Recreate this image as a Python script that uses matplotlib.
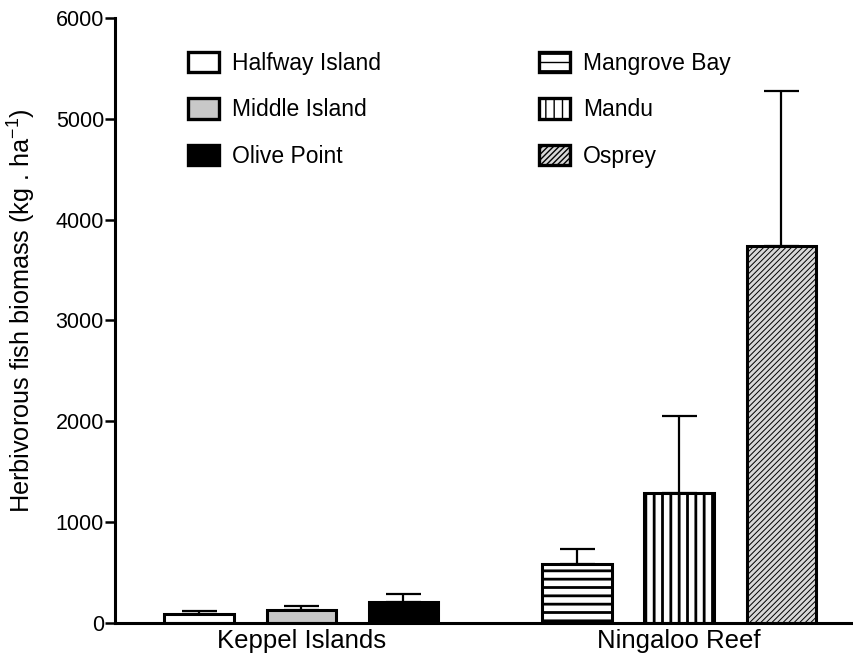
import numpy as np
import matplotlib
matplotlib.use("Agg")
import matplotlib.pyplot as plt
from matplotlib.patches import Patch

plt.rcParams['font.family'] = ['Liberation Sans', 'DejaVu Sans']
plt.rcParams['mathtext.fontset'] = 'custom'
plt.rcParams['mathtext.rm'] = 'Liberation Sans'
plt.rcParams['mathtext.it'] = 'Liberation Sans'

# data
sites = ['Halfway Island', 'Middle Island', 'Olive Point',
         'Mangrove Bay', 'Mandu', 'Osprey']
biomass = [90, 130, 210, 580, 1290, 3740]
biomass_err = [25, 35, 75, 150, 760, 1540]
regions = ['Keppel Islands', 'Ningaloo Reef']

# styling
x_pos = [0, 1, 2, 3.7, 4.7, 5.7]
bar_width = 0.68
faces = ['white', '#c8c8c8', 'black', 'white', 'white', '#d8d8d8']
hatches = [None, None, None, '--', '||', '//////']
hatch_lw = [1, 1, 1, 2.0, 2.0, 0.7]
edge_lw = 2.2

fig = plt.figure(figsize=(8.54, 6.55), dpi=100)
ax = fig.add_axes([0.1347, 0.0489, 0.865, 0.9236])

handles = []
for i in range(len(sites)):
    with plt.rc_context({'hatch.linewidth': hatch_lw[i], 'hatch.color': 'black'}):
        b = ax.bar(x_pos[i], biomass[i], width=bar_width, color=faces[i],
                   edgecolor='black', linewidth=edge_lw, hatch=hatches[i],
                   zorder=2)
        h = Patch(facecolor=faces[i], edgecolor='black', linewidth=2.4,
                  hatch=hatches[i], label=sites[i])
    handles.append(h)
    ax.errorbar(x_pos[i], biomass[i], yerr=[[0], [biomass_err[i]]],
                fmt='none', ecolor='black', elinewidth=1.6, capsize=12.6,
                capthick=1.6, zorder=1)

ax.set_xlim(-0.824, 6.41)
ax.set_ylim(0, 6000)
ax.set_yticks(np.arange(0, 6001, 1000))
ax.set_xticks([1, 4.7])
ax.set_xticklabels(regions, fontsize=18.5)
ax.tick_params(axis='x', length=0, pad=4)
ax.tick_params(axis='y', direction='out', length=7, width=1.8, labelsize=15.5, pad=1)

for s in ['top', 'right']:
    ax.spines[s].set_visible(False)
for s in ['left', 'bottom']:
    ax.spines[s].set_linewidth(2.2)

ax.set_ylabel('Herbivorous fish biomass (kg . ha$^{-1}$)', fontsize=18.2)
ax.yaxis.set_label_coords(-0.1046, 0.517)

# legend in two columns (Keppel left, Ningaloo right)
leg = ax.legend(handles=handles, loc='upper left', bbox_to_anchor=(0.099, 0.944),
                ncol=2, frameon=False, fontsize=16.5, handlelength=1.35,
                handleheight=1.0, handletextpad=0.57, columnspacing=6.9,
                labelspacing=1.02, borderpad=0, borderaxespad=0)

fig.savefig('out.png', dpi=100)
